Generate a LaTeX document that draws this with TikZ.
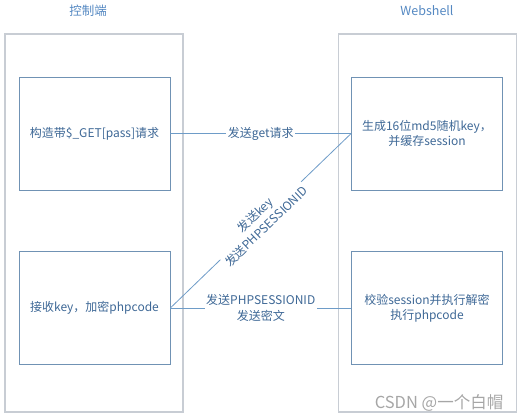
\documentclass[tikz,border=0pt]{standalone}
\usepackage{fontspec}
\newfontfamily\cjk{Noto Sans CJK SC}
\usepackage{tikz}
\usetikzlibrary{positioning,calc}
\usepackage{xcolor}
\definecolor{sidegray}  {RGB}{200, 205, 212}
\definecolor{boxblue}   {RGB}{112, 146, 180}
\definecolor{lineblue}  {RGB}{110, 156, 200}
\definecolor{textblue}  {RGB}{ 62, 104, 150}
\definecolor{titleblue} {RGB}{ 84, 136, 194}

\begin{document}
\begin{tikzpicture}[
  x=1pt,y=-1pt,
  every node/.style={font=\cjk\fontsize{12}{15}\selectfont,text=textblue},
  side/.style={draw=sidegray,line width=1.6pt,minimum width=178pt,
               minimum height=378pt,inner sep=0pt},
  stepbox/.style={draw=boxblue,line width=0.7pt,minimum width=151pt,
                  minimum height=113pt,align=center,inner sep=0pt},
  title/.style={text=titleblue,font=\cjk\fontsize{12.5}{15}\selectfont},
  link/.style={draw=lineblue,line width=0.8pt},
  msg/.style={fill=white,inner sep=1.5pt,align=center,
              font=\cjk\fontsize{12}{16}\selectfont},
]
\useasboundingbox (0,0) rectangle (523,420);

%% ── Sides ────────────────────────────────────────────────────────────────
\node[side] (ctrl)  at (94,223)  {};
\node[side] (shell) at (427.5,223) {};
\node[title] (ctrltitle)  at (88,11)  {控制端};
\node[title] (shelltitle) at (427,11) {Webshell};

%% ── Steps ────────────────────────────────────────────────────────────────
\node[stepbox] (build) at (94.5,133.5) {构造带\$\_GET[pass]请求};
\node[stepbox] (recv)  at (94.5,308)   {接收key，加密phpcode};
\node[stepbox] (gen)   at (427,133.5)  {生成16位md5随机key，\\并缓存session};
\node[stepbox] (check) at (427,308)    {校验session并执行解密\\执行phpcode};

%% ── Messages ─────────────────────────────────────────────────────────────
\draw[link] (build.east) -- node[msg]{发送get请求} (gen.west);
\draw[link] (recv.east) -- node[msg,sloped]{发送key\\发送PHPSESSIONID} (gen.west);
\draw[link] (recv.east) -- node[msg]{发送PHPSESSIONID\\发送密文} (check.west);

%% watermark
\node[text=gray!70,font=\cjk\fontsize{16.5}{19}\selectfont] (mark) at (439,403)
  {CSDN @一个白帽};

\end{tikzpicture}
\end{document}
